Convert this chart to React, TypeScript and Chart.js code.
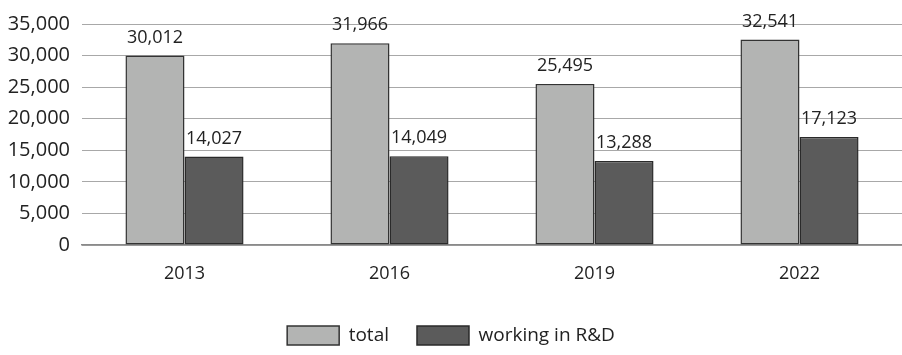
import React, { useEffect, useRef } from "react";
import { Chart, registerables } from "chart.js";

Chart.register(...registerables);

const categories = ["2013", "2016", "2019", "2022"];
const totalValues = [30012, 31966, 25495, 32541];
const rdValues = [14027, 14049, 13288, 17123];
const seriesNames = ["total", "working in R&D"];

const FONT = "'Open Sans', 'Noto Sans', sans-serif";

const valueLabels = {
  id: "valueLabels",
  afterDatasetsDraw(chart: any) {
    const ctx = chart.ctx;
    ctx.save();
    ctx.font = `18px ${FONT}`;
    ctx.fillStyle = "#222";
    ctx.textAlign = "center";
    ctx.textBaseline = "bottom";
    chart.data.datasets.forEach((ds: any, di: number) => {
      const meta = chart.getDatasetMeta(di);
      meta.data.forEach((bar: any, i: number) => {
        const v = ds.data[i] as number;
        ctx.fillText(v.toLocaleString("en-US"), bar.x, bar.y - 9);
      });
    });
    ctx.restore();
  },
};

export default function App() {
  const ref = useRef<HTMLCanvasElement>(null);
  useEffect(() => {
    if (!ref.current) return;
    const chart = new Chart(ref.current, {
      type: "bar",
      data: {
        labels: categories,
        datasets: [
          {
            label: seriesNames[0],
            data: totalValues,
            backgroundColor: "#b3b4b3",
            borderColor: "#333333",
            borderWidth: 1.5,
            borderSkipped: false,
          },
          {
            label: seriesNames[1],
            data: rdValues,
            backgroundColor: "#5b5b5b",
            borderColor: "#2a2a2a",
            borderWidth: 1.5,
            borderSkipped: false,
          },
        ],
      },
      options: {
        responsive: false,
        animation: false,
        layout: { padding: { top: 10, left: 0, right: 0, bottom: 0 } },
        datasets: { bar: { categoryPercentage: 0.576, barPercentage: 1 } },
        plugins: {
          tooltip: { enabled: false },
          legend: {
            position: "bottom",
            labels: {
              boxWidth: 52,
              boxHeight: 19,
              padding: 28,
              color: "#222",
              font: { family: FONT, size: 19 },
            },
          },
        },
        scales: {
          x: {
            grid: { display: false },
            border: { display: true, color: "#8a8a8a", width: 1.5 },
            afterFit: (scale: any) => {
              scale.height = 53;
            },
            ticks: { color: "#222", font: { family: FONT, size: 18 }, padding: 10 },
          },
          y: {
            min: 0,
            max: 35000,
            afterFit: (scale: any) => {
              scale.width = 82;
            },
            grid: { color: "#a8a8a8", lineWidth: 1, drawTicks: false },
            border: { display: false },
            ticks: {
              stepSize: 5000,
              padding: 12,
              color: "#222",
              font: { family: FONT, size: 20 },
              callback: (v: any) => Number(v).toLocaleString("en-US"),
            },
          },
        },
      },
      plugins: [valueLabels],
    });
    return () => chart.destroy();
  }, []);
  return (
    <div style={{ position: "absolute", left: 0, top: 0, width: 902, height: 355, background: "#fff" }}>
      <canvas ref={ref} width={902} height={355} />
    </div>
  );
}
